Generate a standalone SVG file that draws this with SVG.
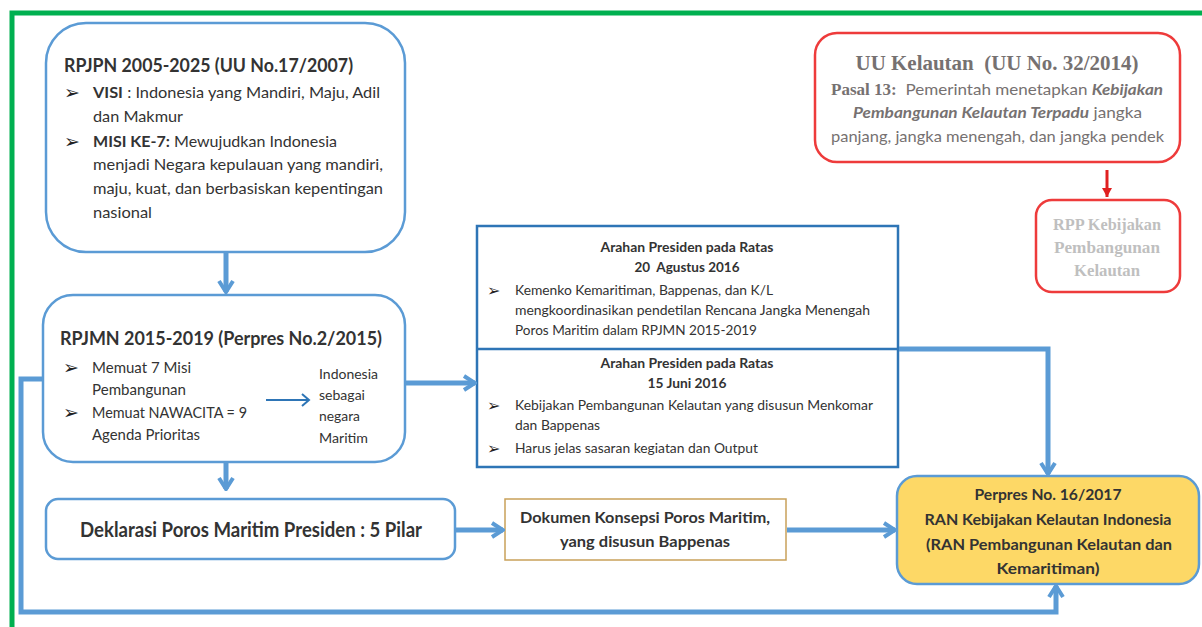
<svg xmlns="http://www.w3.org/2000/svg" width="1202" height="627" viewBox="0 0 1202 627">
<defs>
<style>
.t{font-family:Lato,"Liberation Sans",sans-serif;fill:#333333}
.b{font-weight:bold}
.bul{font-family:"DejaVu Sans",sans-serif;fill:#222;font-size:19px}
.bs{font-size:16px}
.conn{fill:none;stroke:#5b9bd5;stroke-width:5}
.rb{fill:#fff;stroke:#5b9bd5;stroke-width:2.5}
.serif{font-family:"Liberation Serif","DejaVu Serif",serif;font-weight:bold}
</style>
<marker id="ah" viewBox="-14 -10 16 20" refX="0" refY="0" markerWidth="16" markerHeight="20" markerUnits="userSpaceOnUse" orient="auto">
<path d="M-11,-7 L0,0 L-11,7" fill="none" stroke="#5b9bd5" stroke-width="4" stroke-linejoin="miter"/>
</marker>
<marker id="ahs" viewBox="-10 -8 12 16" refX="0" refY="0" markerWidth="12" markerHeight="16" markerUnits="userSpaceOnUse" orient="auto">
<path d="M-7,-6 L0,0 L-7,6" fill="none" stroke="#2e75b6" stroke-width="2"/>
</marker>
<marker id="ahr" viewBox="-10 -6 11 12" refX="0" refY="0" markerWidth="11" markerHeight="12" markerUnits="userSpaceOnUse" orient="auto">
<path d="M-9,-5 L0,0 L-9,5 Z" fill="#e02020"/>
</marker>
</defs>
<rect width="1202" height="627" fill="#ffffff"/>
<g id="frame">
<path d="M12,627 V13 H1202" fill="none" stroke="#00b050" stroke-width="5"/>
</g>
<g id="rpjpn">
<rect class="rb" x="46" y="23" width="359" height="229" rx="40"/>
<text class="t b" x="64" y="72" font-size="19" textLength="289" lengthAdjust="spacingAndGlyphs">RPJPN 2005-2025 (UU No.17/2007)</text>
<text class="bul" x="64" y="99">➢</text>
<text class="t" x="93" y="98" font-size="16" textLength="287" lengthAdjust="spacingAndGlyphs"><tspan class="b">VISI</tspan> : Indonesia yang Mandiri, Maju, Adil</text>
<text class="t" x="93" y="122" font-size="16" textLength="90" lengthAdjust="spacingAndGlyphs">dan Makmur</text>
<text class="bul" x="64" y="148">➢</text>
<text class="t" x="93" y="147" font-size="16" textLength="244" lengthAdjust="spacingAndGlyphs"><tspan class="b">MISI KE-7:</tspan> Mewujudkan Indonesia</text>
<text class="t" x="93" y="170" font-size="16" textLength="290" lengthAdjust="spacingAndGlyphs">menjadi Negara kepulauan yang mandiri,</text>
<text class="t" x="93" y="194" font-size="16" textLength="290" lengthAdjust="spacingAndGlyphs">maju, kuat, dan berbasiskan kepentingan</text>
<text class="t" x="93" y="218" font-size="16" textLength="59" lengthAdjust="spacingAndGlyphs">nasional</text>
</g>
<g id="rpjmn">
<rect class="rb" x="43" y="295" width="362" height="167" rx="30"/>
<text class="t b" x="60" y="345" font-size="19" textLength="322" lengthAdjust="spacingAndGlyphs">RPJMN 2015-2019 (Perpres No.2/2015)</text>
<text class="bul" x="63" y="374">➢</text>
<text class="t" x="92" y="373" font-size="15" textLength="99" lengthAdjust="spacingAndGlyphs">Memuat 7 Misi</text>
<text class="t" x="92" y="395" font-size="15" textLength="94" lengthAdjust="spacingAndGlyphs">Pembangunan</text>
<text class="bul" x="63" y="419">➢</text>
<text class="t" x="92" y="418" font-size="15" textLength="155" lengthAdjust="spacingAndGlyphs">Memuat NAWACITA = 9</text>
<text class="t" x="92" y="440" font-size="15" textLength="108" lengthAdjust="spacingAndGlyphs">Agenda Prioritas</text>
<text class="t" x="319" y="379" font-size="14" textLength="59" lengthAdjust="spacingAndGlyphs">Indonesia</text>
<text class="t" x="319" y="400" font-size="14" textLength="46" lengthAdjust="spacingAndGlyphs">sebagai</text>
<text class="t" x="319" y="421" font-size="14" textLength="41" lengthAdjust="spacingAndGlyphs">negara</text>
<text class="t" x="319" y="443" font-size="14" textLength="49" lengthAdjust="spacingAndGlyphs">Maritim</text>
</g>
<g id="deklarasi">
<rect class="rb" x="46" y="499" width="409" height="60" rx="12"/>
<text class="t b" x="80" y="537" font-size="20" textLength="342" lengthAdjust="spacingAndGlyphs">Deklarasi Poros Maritim Presiden : 5 Pilar</text>
</g>
<g id="arahan">
<rect x="477" y="226" width="421" height="241" fill="#fff" stroke="#2e75b6" stroke-width="2.5"/>
<line x1="477" y1="349" x2="898" y2="349" stroke="#2e75b6" stroke-width="2.5"/>
<text class="t b" x="687" y="252" font-size="14" text-anchor="middle" textLength="173" lengthAdjust="spacingAndGlyphs">Arahan Presiden pada Ratas</text>
<text class="t b" x="687" y="272" font-size="14" text-anchor="middle" textLength="105" lengthAdjust="spacingAndGlyphs">20&#160; Agustus 2016</text>
<text class="bul bs" x="487" y="296">➢</text>
<text class="t" x="515" y="295" font-size="14" textLength="258" lengthAdjust="spacingAndGlyphs">Kemenko Kemaritiman, Bappenas, dan K/L</text>
<text class="t" x="515" y="315" font-size="14" textLength="355" lengthAdjust="spacingAndGlyphs">mengkoordinasikan pendetilan Rencana Jangka Menengah</text>
<text class="t" x="515" y="335" font-size="14" textLength="242" lengthAdjust="spacingAndGlyphs">Poros Maritim dalam RPJMN 2015-2019</text>
<text class="t b" x="687" y="368" font-size="14" text-anchor="middle" textLength="173" lengthAdjust="spacingAndGlyphs">Arahan Presiden pada Ratas</text>
<text class="t b" x="687" y="388" font-size="14" text-anchor="middle" textLength="79" lengthAdjust="spacingAndGlyphs">15 Juni 2016</text>
<text class="bul bs" x="487" y="411">➢</text>
<text class="t" x="515" y="410" font-size="14" textLength="358" lengthAdjust="spacingAndGlyphs">Kebijakan Pembangunan Kelautan yang disusun Menkomar</text>
<text class="t" x="515" y="430" font-size="14" textLength="85" lengthAdjust="spacingAndGlyphs">dan Bappenas</text>
<text class="bul bs" x="487" y="454">➢</text>
<text class="t" x="515" y="453" font-size="14" textLength="243" lengthAdjust="spacingAndGlyphs">Harus jelas sasaran kegiatan dan Output</text>
</g>
<g id="dokumen">
<rect x="505" y="499" width="281" height="61" fill="#fff" stroke="#c9a15a" stroke-width="1.5"/>
<text class="t b" x="645" y="523" font-size="16" text-anchor="middle" textLength="250" lengthAdjust="spacingAndGlyphs">Dokumen Konsepsi Poros Maritim,</text>
<text class="t b" x="645" y="547" font-size="16" text-anchor="middle" textLength="170" lengthAdjust="spacingAndGlyphs">yang disusun Bappenas</text>
</g>
<g id="perpres">
<rect x="897" y="476" width="302" height="108" rx="20" fill="#fdd866" stroke="#5b9bd5" stroke-width="2.5"/>
<text class="t b" x="1048" y="500" font-size="16" text-anchor="middle" textLength="147" lengthAdjust="spacingAndGlyphs">Perpres No. 16/2017</text>
<text class="t b" x="1048" y="525" font-size="16" text-anchor="middle" textLength="247" lengthAdjust="spacingAndGlyphs">RAN Kebijakan Kelautan Indonesia</text>
<text class="t b" x="1049" y="550" font-size="16" text-anchor="middle" textLength="246" lengthAdjust="spacingAndGlyphs">(RAN Pembangunan Kelautan dan</text>
<text class="t b" x="1048" y="574" font-size="16" text-anchor="middle" textLength="103" lengthAdjust="spacingAndGlyphs">Kemaritiman)</text>
</g>
<g id="uu-kelautan">
<rect x="815" y="33" width="365" height="129" rx="22" fill="#fff" stroke="#ee3b3b" stroke-width="2.5"/>
<text class="serif" x="997" y="70" font-size="21" fill="#767171" text-anchor="middle" textLength="283" lengthAdjust="spacingAndGlyphs">UU Kelautan&#160; (UU No. 32/2014)</text>
<text x="831" y="95" font-size="16" fill="#767171" textLength="332" lengthAdjust="spacingAndGlyphs"><tspan class="serif">Pasal 13:</tspan><tspan font-family="Lato,'Liberation Sans',sans-serif">&#160; Pemerintah menetapkan </tspan><tspan font-family="Lato,'Liberation Sans',sans-serif" font-weight="bold" font-style="italic">Kebijakan</tspan></text>
<text x="853" y="118" font-size="16" fill="#767171" font-family="Lato,'Liberation Sans',sans-serif" textLength="289" lengthAdjust="spacingAndGlyphs"><tspan font-weight="bold" font-style="italic">Pembangunan Kelautan Terpadu</tspan> jangka</text>
<text x="831" y="142" font-size="16" fill="#767171" font-family="Lato,'Liberation Sans',sans-serif" textLength="333" lengthAdjust="spacingAndGlyphs">panjang, jangka menengah, dan jangka pendek</text>
</g>
<g id="rpp">
<rect x="1036" y="200" width="144" height="92" rx="16" fill="#fff" stroke="#ee3b3b" stroke-width="2.5"/>
<text class="serif" x="1107" y="230" font-size="16" fill="#bfbfbf" text-anchor="middle" textLength="108" lengthAdjust="spacingAndGlyphs">RPP Kebijakan</text>
<text class="serif" x="1107" y="253" font-size="16" fill="#bfbfbf" text-anchor="middle" textLength="106" lengthAdjust="spacingAndGlyphs">Pembangunan</text>
<text class="serif" x="1107" y="276" font-size="16" fill="#bfbfbf" text-anchor="middle" textLength="66" lengthAdjust="spacingAndGlyphs">Kelautan</text>
</g>
<g id="connectors">
<line class="conn" x1="226" y1="253" x2="226" y2="292" marker-end="url(#ah)"/>
<line class="conn" x1="226" y1="463" x2="226" y2="489" marker-end="url(#ah)"/>
<line class="conn" x1="406" y1="383" x2="475" y2="383" marker-end="url(#ah)"/>
<line class="conn" x1="456" y1="530" x2="503" y2="530" marker-end="url(#ah)"/>
<line class="conn" x1="787" y1="530" x2="895" y2="530" marker-end="url(#ah)"/>
<path class="conn" d="M899,349 H1048 V474" marker-end="url(#ah)"/>
<path class="conn" d="M42,379 H21 V612 H1056 V586" marker-end="url(#ah)"/>
<line x1="266" y1="400" x2="309" y2="400" stroke="#2e75b6" stroke-width="2.2" marker-end="url(#ahs)"/>
<line x1="1107" y1="170" x2="1107" y2="197" stroke="#e02020" stroke-width="3" marker-end="url(#ahr)"/>
</g>
</svg>
